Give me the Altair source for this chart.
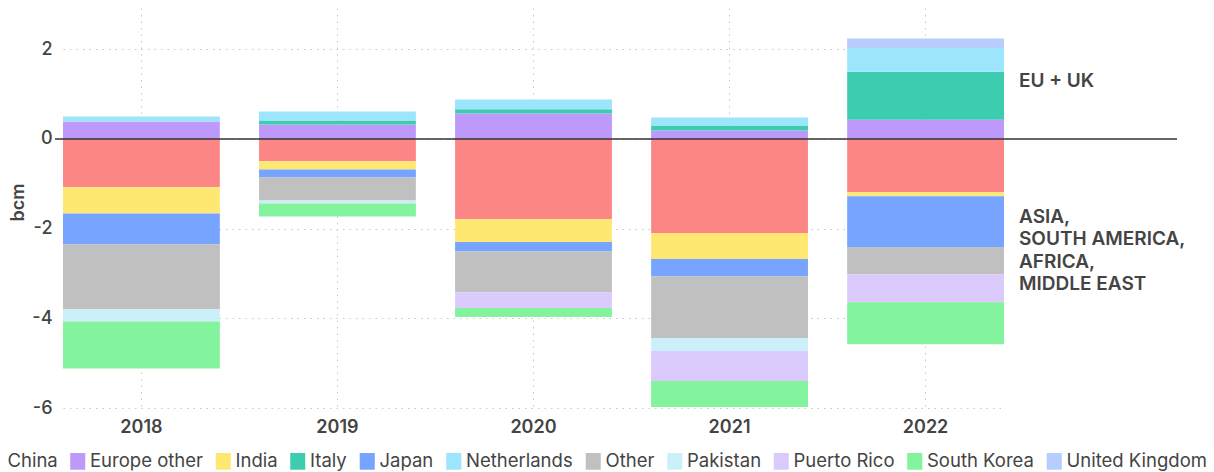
import altair as alt
import pandas as pd

years = ["2018", "2019", "2020", "2021", "2022"]
countries = ["China", "Europe other", "India", "Italy", "Japan", "Netherlands",
             "Other", "Pakistan", "Puerto Rico", "South Korea", "United Kingdom"]
colors = ["#FC8686", "#BD9AFA", "#FEE872", "#3ECCB0", "#76A4FE", "#9BE5FD",
          "#C0C0C0", "#CBF0FA", "#DBCAFC", "#83F39D", "#B7CDFD"]

china = [-1.08, -0.50, -1.79, -2.10, -1.19]
europe_other = [0.39, 0.32, 0.57, 0.19, 0.43]
india = [-0.58, -0.18, -0.51, -0.58, -0.09]
italy = [0.0, 0.09, 0.09, 0.11, 1.07]
japan = [-0.69, -0.18, -0.21, -0.38, -1.13]
netherlands = [0.11, 0.20, 0.22, 0.18, 0.53]
other = [-1.45, -0.51, -0.91, -1.38, -0.61]
pakistan = [-0.27, -0.07, 0.0, -0.29, 0.0]
puerto_rico = [0.0, 0.0, -0.35, -0.67, -0.62]
south_korea = [-1.05, -0.29, -0.20, -0.58, -0.94]
united_kingdom = [0.0, 0.0, 0.0, 0.0, 0.21]

series = [china, europe_other, india, italy, japan, netherlands,
          other, pakistan, puerto_rico, south_korea, united_kingdom]

ann_text = ["EU + UK", "ASIA,\nSOUTH AMERICA,\nAFRICA,\nMIDDLE EAST"]
ann_y = [1.165, -1.867]

rows = []
for c, vals in zip(countries, series):
    for y, v in zip(years, vals):
        if v != 0:
            rows.append({"year": y, "country": c, "value": v})
df = pd.DataFrame(rows)
ann = pd.DataFrame({"label": ann_text, "y": ann_y})

FONT = "Inter"
TXT = "#444444"

ydom = [-6, 2.92]

bars = alt.Chart(df).mark_bar().encode(
    x=alt.X("year:N", sort=years,
            scale=alt.Scale(paddingInner=0.2, paddingOuter=0),
            axis=alt.Axis(title=None, labelAngle=0, ticks=False, domain=False,
                          labelFontSize=18, labelFontWeight=600, labelColor=TXT,
                          labelPadding=10, grid=True, gridColor="#c8c8c8",
                          gridDash=[1.5, 5], gridWidth=1)),
    y=alt.Y("value:Q", stack="zero",
            scale=alt.Scale(domain=ydom, nice=False, zero=False),
            axis=alt.Axis(title="bcm", values=[-6, -4, -2, 0, 2], ticks=False,
                          domain=False, labelFontSize=18, labelFontWeight=500,
                          labelColor=TXT, labelPadding=11, grid=True,
                          labelExpr="replace(datum.label, '\u2212', '-')",
                          gridColor="#c8c8c8", gridDash=[1.5, 5], gridWidth=1,
                          titleFontSize=18, titleFontWeight=600, titleColor=TXT,
                          titleAngle=270, titleAlign="center", titleBaseline="middle",
                          titleX=-45, titleY=194)),
    color=alt.Color("country:N", sort=countries,
                    scale=alt.Scale(domain=countries, range=colors),
                    legend=alt.Legend(title=None, orient="none", direction="horizontal",
                                      columns=11, legendX=-77, legendY=444,
                                      symbolType="M-0.9,-1H0.9V1H-0.9Z",
                                      symbolSize=279, symbolStrokeWidth=0,
                                      symbolOpacity=1, labelFontSize=18.5,
                                      labelColor=TXT, labelOffset=3,
                                      columnPadding=10.5, padding=0, rowPadding=0)),
    order=alt.Order("country:N", sort="ascending"),
)

zero = alt.Chart(pd.DataFrame({"v": [0]})).mark_rule(color="#333333", strokeWidth=1.5).encode(
    y=alt.Y("v:Q", scale=alt.Scale(domain=ydom, nice=False, zero=False)),
    x=alt.value(-8), x2=alt.value(1114),
)

texts = alt.Chart(ann).mark_text(
    align="left", baseline="alphabetic", fontSize=19, fontWeight=600,
    color=TXT, lineHeight=22.5, lineBreak="\n", font=FONT,
).encode(
    y=alt.Y("y:Q", scale=alt.Scale(domain=ydom, nice=False, zero=False)),
    x=alt.value(956),
    text="label:N",
)

chart = alt.layer(bars, zero, texts).properties(
    width=941, height=400,
    autosize=alt.AutoSizeParams(type="none"),
    padding={"left": 55, "top": 0, "right": 202, "bottom": 64},
).configure(font=FONT).configure_view(stroke=None)

chart.save("out.html", embed_options={"renderer": "svg", "actions": False})
